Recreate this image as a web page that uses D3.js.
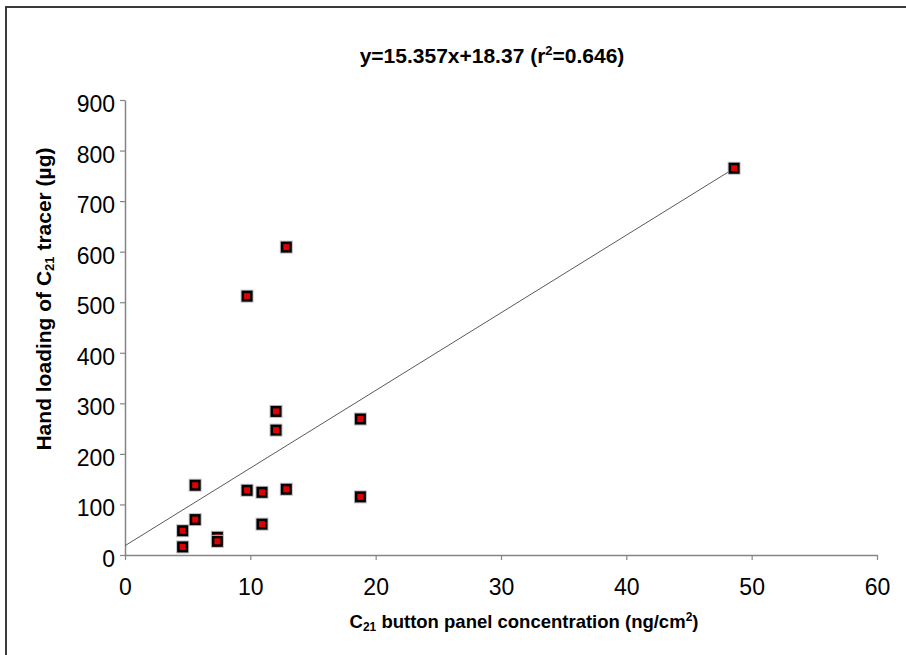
<!DOCTYPE html>
<html>
<head>
<meta charset="utf-8">
<script src="https://cdn.jsdelivr.net/npm/d3@7/dist/d3.min.js"></script>
<style>
  html, body { margin: 0; padding: 0; background: #fff; }
  svg { display: block; font-family: "Liberation Sans", Arial, sans-serif; }
</style>
</head>
<body>
<svg id="chart" width="906" height="655"></svg>
<script>
// Button panel concentration (ng/cm²) vs. hand loading (µg)
const panelConc = [4.6, 4.6, 5.6, 5.6, 7.37, 7.37, 9.74, 9.74, 10.93, 10.93, 12.05, 12.05, 12.87, 12.87, 18.78, 18.78, 48.6];
const handLoad  = [16, 48, 70, 138, 35, 27, 128, 512, 124, 61, 284, 247, 130, 609, 269, 115, 765];

// Least-squares fit reported in the title
const slope = 15.357;
const intercept = 18.37;

const xTicks = [0, 10, 20, 30, 40, 50, 60];
const yTicks = [0, 100, 200, 300, 400, 500, 600, 700, 800, 900];

const svg = d3.select("#chart");

// frame
svg.append("rect")
  .attr("x", 6).attr("y", 7)
  .attr("width", 1000).attr("height", 1000)
  .attr("fill", "none").attr("stroke", "#3a3a3a").attr("stroke-width", 2);

const plot = { left: 125, right: 877, top: 100, bottom: 555 };

const x = d3.scaleLinear().domain([0, 60]).range([plot.left, plot.right]);
const y = d3.scaleLinear().domain([0, 900]).range([plot.bottom, plot.top]);

const axisColor = "#858585";

// x axis
const gx = svg.append("g")
  .attr("transform", `translate(0,${plot.bottom})`)
  .call(d3.axisBottom(x).tickValues(xTicks).tickSize(5).tickSizeOuter(0).tickPadding(19));
// y axis
const gy = svg.append("g")
  .attr("transform", `translate(${plot.left},0)`)
  .call(d3.axisLeft(y).tickValues(yTicks).tickSize(5).tickSizeOuter(0).tickPadding(5));

[gx, gy].forEach(g => {
  g.select(".domain").attr("stroke", axisColor).attr("stroke-width", 1.5);
  g.selectAll(".tick line").attr("stroke", axisColor).attr("stroke-width", 1.2);
  g.selectAll(".tick text")
    .attr("fill", "#000")
    .style("font-family", '"Liberation Sans", Arial, sans-serif')
    .style("font-size", "23px");
});
// value labels sit slightly below their tick marks
gy.selectAll(".tick text").attr("dy", "0.5em");

// regression line from x = 0 to the largest concentration
const xMax = d3.max(panelConc);
svg.append("line")
  .attr("x1", x(0)).attr("y1", y(intercept))
  .attr("x2", x(xMax)).attr("y2", y(slope * xMax + intercept))
  .attr("stroke", "#5a5a5a").attr("stroke-width", 1);

// markers
const pts = panelConc.map((v, i) => ({ cx: v, cy: handLoad[i] }));
const mk = svg.append("g").selectAll("g").data(pts).join("g")
  .attr("transform", d => `translate(${x(d.cx)},${y(d.cy)})`);
mk.append("rect")
  .attr("x", -6.5).attr("y", -6.5).attr("width", 13).attr("height", 13)
  .attr("fill", "#bdbdbd");
mk.append("rect")
  .attr("x", -5.5).attr("y", -5.5).attr("width", 11).attr("height", 11)
  .attr("fill", "#000");
mk.append("rect")
  .attr("x", -3).attr("y", -3).attr("width", 6).attr("height", 6)
  .attr("fill", "#e00000");

// title with fit equation
const title = svg.append("text")
  .attr("x", 492).attr("y", 63)
  .attr("text-anchor", "middle")
  .style("font-size", "21px").style("font-weight", "bold");
title.append("tspan").text("y=15.357x+18.37 (r");
title.append("tspan").attr("dy", -8).style("font-size", "13px").text("2");
title.append("tspan").attr("dy", 8).text("=0.646)");

// x axis title
const xl = svg.append("text")
  .attr("x", 524).attr("y", 628)
  .attr("text-anchor", "middle")
  .style("font-size", "18.5px").style("font-weight", "bold");
xl.append("tspan").text("C");
xl.append("tspan").attr("dy", 3).style("font-size", "12px").text("21");
xl.append("tspan").attr("dy", -3).text(" button panel concentration (ng/cm");
xl.append("tspan").attr("dy", -7).style("font-size", "12px").text("2");
xl.append("tspan").attr("dy", 7).text(")");

// y axis title
const yl = svg.append("text")
  .attr("transform", "translate(51,299) rotate(-90)")
  .attr("text-anchor", "middle")
  .style("font-size", "21px").style("font-weight", "bold");
yl.append("tspan").text("Hand loading of C");
yl.append("tspan").attr("dy", 3).style("font-size", "13px").text("21");
yl.append("tspan").attr("dy", -3).text(" tracer (µg)");
</script>
</body>
</html>
